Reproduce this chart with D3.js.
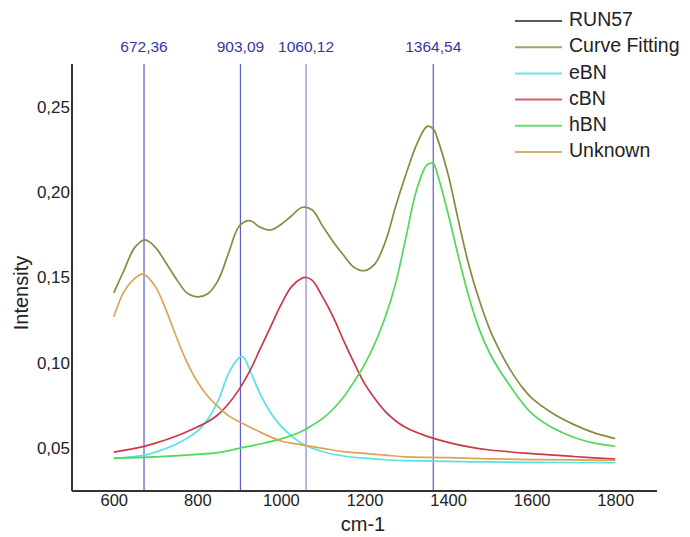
<!DOCTYPE html>
<html>
<head>
<meta charset="utf-8">
<script src="https://cdn.jsdelivr.net/npm/d3@7"></script>
<style>
  html, body { margin: 0; padding: 0; background: #fff; }
  svg { display: block; font-family: "Liberation Sans", Arial, sans-serif; }
</style>
</head>
<body>
<svg id="chart" width="690" height="537"></svg>
<script>
// ---- data ----
const xTicks = [600, 800, 1000, 1200, 1400, 1600, 1800];
const yTicks = [0.05, 0.10, 0.15, 0.20, 0.25];
const peaks = [672.36, 903.09, 1060.12, 1364.54];
const peakLabels = ["672,36", "903,09", "1060,12", "1364,54"];

const fitX = [600, 625, 650, 675, 700, 725, 750, 775, 800, 825, 850, 875, 900, 925, 950, 975, 1000, 1025, 1050, 1075, 1100, 1125, 1150, 1175, 1200, 1225, 1250, 1275, 1300, 1325, 1350, 1365, 1375, 1400, 1425, 1450, 1475, 1500, 1525, 1550, 1575, 1600, 1650, 1700, 1750, 1800];
const fitY = [0.141, 0.1545, 0.1675, 0.172, 0.1675, 0.1585, 0.149, 0.141, 0.1387, 0.1405, 0.1485, 0.1645, 0.180, 0.1833, 0.1795, 0.1778, 0.181, 0.186, 0.191, 0.1895, 0.180, 0.171, 0.163, 0.156, 0.154, 0.158, 0.171, 0.192, 0.211, 0.228, 0.2385, 0.2369, 0.231, 0.2104, 0.183, 0.157, 0.1365, 0.1195, 0.1065, 0.0955, 0.0865, 0.0795, 0.0705, 0.064, 0.059, 0.0557];

const ebnX = [600, 650, 675, 700, 750, 800, 825, 850, 875, 900, 910, 925, 950, 975, 1000, 1025, 1050, 1100, 1150, 1200, 1250, 1300, 1400, 1500, 1600, 1800];
const ebnY = [0.044, 0.0452, 0.046, 0.0478, 0.0525, 0.060, 0.067, 0.078, 0.094, 0.103, 0.1035, 0.096, 0.082, 0.071, 0.063, 0.0573, 0.0528, 0.048, 0.0455, 0.0442, 0.0433, 0.0428, 0.0423, 0.042, 0.0418, 0.0416];

const cbnX = [600, 650, 675, 700, 750, 800, 825, 850, 875, 900, 925, 950, 975, 1000, 1025, 1050, 1060, 1075, 1100, 1125, 1150, 1175, 1200, 1225, 1250, 1275, 1300, 1350, 1400, 1450, 1500, 1600, 1700, 1800];
const cbnY = [0.0478, 0.050, 0.0513, 0.053, 0.0572, 0.0625, 0.0655, 0.0698, 0.0762, 0.0845, 0.095, 0.108, 0.121, 0.134, 0.1445, 0.1495, 0.150, 0.1483, 0.1385, 0.127, 0.113, 0.100, 0.088, 0.079, 0.0715, 0.066, 0.062, 0.057, 0.0535, 0.0508, 0.049, 0.0469, 0.0452, 0.0437];

const hbnX = [600, 700, 800, 850, 900, 950, 1000, 1050, 1075, 1100, 1125, 1150, 1175, 1200, 1225, 1250, 1275, 1300, 1325, 1350, 1365, 1375, 1400, 1425, 1450, 1475, 1500, 1525, 1550, 1575, 1600, 1650, 1700, 1750, 1800];
const hbnY = [0.0442, 0.045, 0.0465, 0.0475, 0.050, 0.0525, 0.0555, 0.060, 0.0635, 0.0675, 0.073, 0.080, 0.089, 0.099, 0.1115, 0.127, 0.147, 0.1745, 0.2015, 0.216, 0.2165, 0.210, 0.1875, 0.162, 0.1385, 0.1195, 0.1055, 0.095, 0.086, 0.0775, 0.0705, 0.062, 0.0565, 0.053, 0.0512];

const unkX = [600, 625, 650, 667, 675, 700, 725, 750, 775, 800, 825, 850, 875, 900, 925, 950, 975, 1000, 1050, 1100, 1150, 1200, 1250, 1300, 1400, 1500, 1600, 1700, 1800];
const unkY = [0.127, 0.142, 0.1495, 0.152, 0.1515, 0.1445, 0.131, 0.115, 0.1005, 0.089, 0.0805, 0.0743, 0.069, 0.0655, 0.0625, 0.0595, 0.0567, 0.0543, 0.052, 0.050, 0.048, 0.047, 0.046, 0.045, 0.0445, 0.0438, 0.0434, 0.0432, 0.043];

const seriesNames = ["RUN57", "Curve Fitting", "eBN", "cBN", "hBN", "Unknown"];
const seriesColors = ["#555555", "#8a8a40", "#55e3e3", "#cc3848", "#4fd958", "#e0a255"];
const legendColors = ["#5a5a5a", "#a3a36a", "#66e6e6", "#d0606e", "#66dd77", "#ddaa70"];

const series = [
  { name: "Curve Fitting", xs: fitX, ys: fitY, color: seriesColors[1] },
  { name: "eBN", xs: ebnX, ys: ebnY, color: seriesColors[2] },
  { name: "cBN", xs: cbnX, ys: cbnY, color: seriesColors[3] },
  { name: "hBN", xs: hbnX, ys: hbnY, color: seriesColors[4] },
  { name: "Unknown", xs: unkX, ys: unkY, color: seriesColors[5] }
];

// ---- layout ----
const svg = d3.select("#chart");
const mLeft = 72, mRight = 657, mTop = 64, mBottom = 491;
const FONT = "Liberation Sans, Arial, sans-serif";

const x = d3.scaleLinear().domain([500, 1900]).range([mLeft, mRight]);
const y = d3.scaleLinear().domain([0.025, 0.275]).range([mBottom, mTop]);

// peak lines
svg.append("g").selectAll("line").data(peaks).join("line")
  .attr("x1", d => x(d)).attr("x2", d => x(d))
  .attr("y1", mTop).attr("y2", mBottom)
  .attr("stroke", (d, i) => i === 2 ? "#8a86cc" : "#5a5ad0")
  .attr("stroke-width", 1.2);

svg.append("g").selectAll("text").data(peaks).join("text")
  .attr("x", d => x(d)).attr("y", 48)
  .attr("text-anchor", "middle").attr("dominant-baseline", "middle")
  .attr("font-family", FONT)
  .attr("font-size", 15.5).attr("fill", "#3636a8")
  .text((d, i) => peakLabels[i]);

// curves
const line = d3.line().x(d => x(d[0])).y(d => y(d[1])).curve(d3.curveCatmullRom.alpha(0.5));
svg.append("g").selectAll("path").data(series).join("path")
  .attr("d", s => line(s.xs.map((v, i) => [v, s.ys[i]])))
  .attr("fill", "none")
  .attr("stroke", s => s.color)
  .attr("stroke-width", 1.7);

// axes
const xAxis = d3.axisBottom(x).tickValues(xTicks).tickSize(0).tickPadding(3).tickFormat(d3.format("d"));
const gx = svg.append("g").attr("transform", `translate(0,${mBottom})`).call(xAxis);
gx.select(".domain").attr("stroke", "#333").attr("stroke-width", 2).attr("d", `M${mLeft},0H${mRight}`);
gx.selectAll("text").attr("font-size", 16.5).attr("fill", "#222").attr("font-family", FONT);

const fmtY = d => d3.format(".2f")(d).replace(".", ",");
const yAxis = d3.axisLeft(y).tickValues(yTicks).tickSize(0).tickPadding(2).tickFormat(fmtY);
const gy = svg.append("g").attr("transform", `translate(${mLeft},0)`).call(yAxis);
gy.select(".domain").attr("stroke", "#333").attr("stroke-width", 2).attr("d", `M0,${mTop}V${mBottom}`);
gy.selectAll("text").attr("font-size", 17).attr("fill", "#222").attr("font-family", FONT);

// axis titles
svg.append("text").attr("x", 363).attr("y", 526)
  .attr("text-anchor", "middle").attr("dominant-baseline", "middle")
  .attr("font-family", FONT)
  .attr("font-size", 20).attr("fill", "#222").text("cm-1");
svg.append("text")
  .attr("transform", "translate(23,293) rotate(-90)")
  .attr("text-anchor", "middle").attr("dominant-baseline", "middle")
  .attr("font-family", FONT)
  .attr("font-size", 20).attr("fill", "#222").text("Intensity");

// legend
const lg = svg.append("g").selectAll("g").data(seriesNames).join("g")
  .attr("transform", (d, i) => `translate(515,${21 + i * 26.2})`);
lg.append("line").attr("x1", 0).attr("x2", 47).attr("y1", 0).attr("y2", 0)
  .attr("stroke", (d, i) => legendColors[i]).attr("stroke-width", 2);
lg.append("text").attr("x", 54).attr("y", 0).attr("dominant-baseline", "middle")
  .attr("font-family", FONT)
  .attr("font-size", 19.5).attr("fill", "#222").text(d => d);
</script>
</body>
</html>
